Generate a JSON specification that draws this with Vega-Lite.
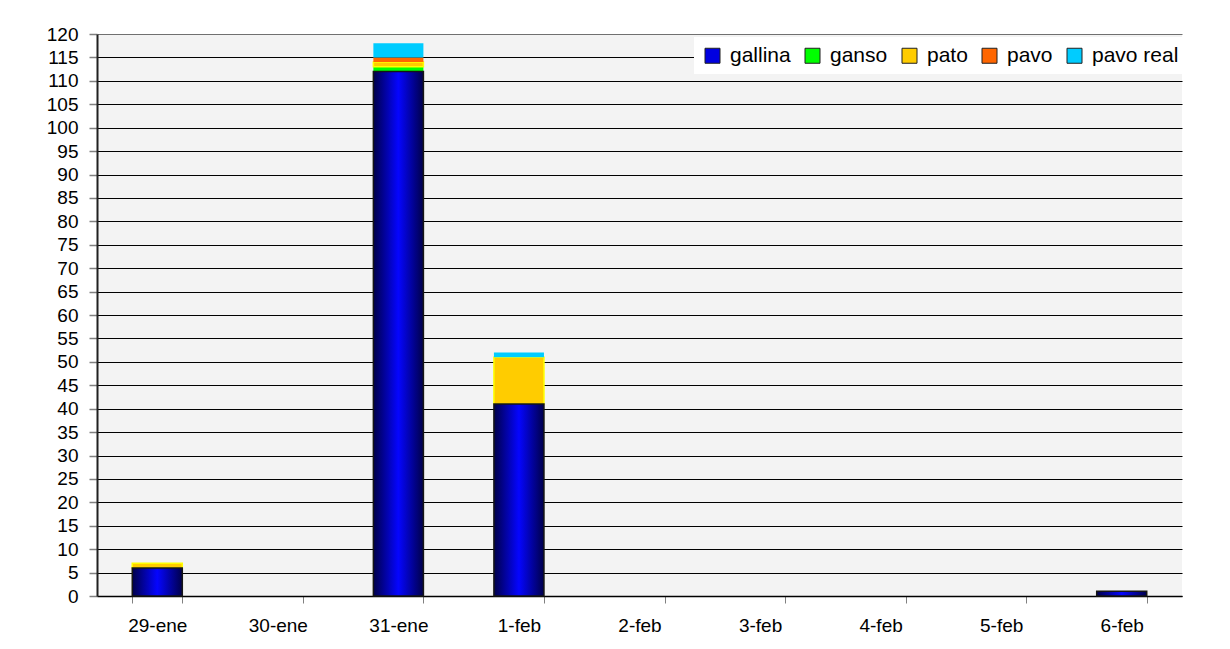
{
  "$schema": "https://vega.github.io/schema/vega-lite/v6.json",
  "autosize": "none",
  "width": 1085,
  "height": 562,
  "padding": {"left": 97, "top": 34, "right": 48, "bottom": 53},
  "background": "white",
  "config": {
    "font": "Liberation Sans",
    "view": {"fill": "#f3f3f3", "stroke": null}
  },
  "data": {
    "values": [
      {"fecha": "29-ene", "especie": "gallina", "n": 6},
      {"fecha": "29-ene", "especie": "pato", "n": 1},
      {"fecha": "31-ene", "especie": "gallina", "n": 112},
      {"fecha": "31-ene", "especie": "ganso", "n": 1},
      {"fecha": "31-ene", "especie": "pato", "n": 1},
      {"fecha": "31-ene", "especie": "pavo", "n": 1},
      {"fecha": "31-ene", "especie": "pavo real", "n": 3},
      {"fecha": "1-feb", "especie": "gallina", "n": 41},
      {"fecha": "1-feb", "especie": "pato", "n": 10},
      {"fecha": "1-feb", "especie": "pavo real", "n": 1},
      {"fecha": "6-feb", "especie": "gallina", "n": 1}
    ]
  },
  "encoding": {
    "x": {
      "field": "fecha",
      "type": "nominal",
      "sort": null,
      "scale": {
        "domain": ["29-ene", "30-ene", "31-ene", "1-feb", "2-feb", "3-feb", "4-feb", "5-feb", "6-feb"],
        "paddingInner": 0.585,
        "paddingOuter": 0.2925
      },
      "axis": {
        "title": null,
        "labelAngle": 0,
        "labelFontSize": 19,
        "labelColor": "black",
        "labelPadding": 13,
        "tickBand": "extent",
        "tickSize": 7,
        "tickColor": "#808080",
        "domainColor": "black",
        "domainWidth": 1.5,
        "grid": false
      }
    },
    "y": {
      "field": "n",
      "type": "quantitative",
      "stack": "zero",
      "scale": {"domain": [0, 120], "nice": false},
      "axis": {
        "title": null,
        "values": [0, 5, 10, 15, 20, 25, 30, 35, 40, 45, 50, 55, 60, 65, 70, 75, 80, 85, 90, 95, 100, 105, 110, 115, 120],
        "labelOverlap": false,
        "labelFontSize": 19,
        "labelColor": "black",
        "labelPadding": 11,
        "tickSize": 8,
        "tickColor": "#808080",
        "tickWidth": 1.5,
        "domainColor": "#202020",
        "domainWidth": 2,
        "grid": true,
        "gridColor": {"condition": {"test": "datum.value == 120", "value": "#707070"}, "value": "black"},
        "gridWidth": 1
      }
    }
  },
  "layer": [
    {
      "mark": {"type": "bar", "strokeWidth": 1.5},
      "encoding": {
        "order": {"field": "especie", "sort": "ascending"},
        "color": {
          "field": "especie",
          "type": "nominal",
          "scale": {
            "domain": ["gallina", "ganso", "pato", "pavo", "pavo real"],
            "range": ["#0000e0", "#00ff00", "#ffcc00", "#ff6600", "#00ccff"]
          },
          "legend": {
            "title": null,
            "orient": "none",
            "legendX": 597,
            "legendY": 3,
            "direction": "horizontal",
            "fillColor": "white",
            "padding": 8,
            "columnPadding": 11,
            "labelFontSize": 21,
            "labelColor": "black",
            "labelOffset": 7,
            "symbolType": "square",
            "symbolSize": 225,
            "symbolStrokeColor": "#202020",
            "symbolStrokeWidth": 1,
            "symbolOpacity": 1
          }
        },
        "stroke": {
          "condition": {"test": "datum.especie == 'pato'", "value": "#ffff00"},
          "value": null
        }
      }
    },
    {
      "transform": [{"filter": "datum.especie == 'gallina'"}],
      "mark": {
        "type": "bar",
        "stroke": "#151515",
        "strokeWidth": 1.5,
        "fill": {
          "gradient": "linear",
          "x1": 0, "y1": 0, "x2": 1, "y2": 0,
          "stops": [
            {"offset": 0, "color": "#00004a"},
            {"offset": 0.5, "color": "#0505ff"},
            {"offset": 1, "color": "#00004a"}
          ]
        }
      },
      "encoding": {}
    }
  ]
}
